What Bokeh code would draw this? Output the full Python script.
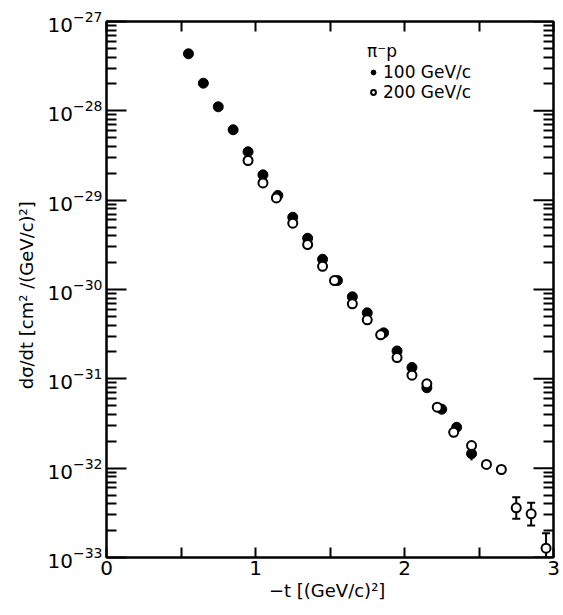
from bokeh.plotting import figure
from bokeh.models import (Range1d, FixedTicker, LinearAxis, LogAxis, Legend,
                          LegendItem, ColumnDataSource)
from bokeh.embed import file_html
from bokeh.resources import INLINE

# ---- data ----
t_100 = [0.55, 0.65, 0.75, 0.85, 0.95, 1.05, 1.15, 1.25, 1.35, 1.45,
         1.55, 1.65, 1.75, 1.86, 1.95, 2.05, 2.15, 2.25, 2.35, 2.45]
ds_100 = [4.35e-28, 2.04e-28, 1.11e-28, 6.14e-29, 3.48e-29, 1.92e-29, 1.13e-29,
          6.44e-30, 3.75e-30, 2.18e-30, 1.26e-30, 8.28e-31, 5.48e-31, 3.27e-31,
          2.05e-31, 1.34e-31, 7.94e-32, 4.57e-32, 2.87e-32, 1.45e-32]

t_200 = [0.95, 1.05, 1.14, 1.25, 1.35, 1.45, 1.53, 1.65, 1.75, 1.84, 1.95,
         2.05, 2.15, 2.22, 2.33, 2.45, 2.55, 2.65, 2.75, 2.85, 2.95]
ds_200 = [2.78e-29, 1.56e-29, 1.06e-29, 5.52e-30, 3.19e-30, 1.82e-30, 1.26e-30,
          6.92e-31, 4.58e-31, 3.11e-31, 1.73e-31, 1.10e-31, 8.8e-32, 4.81e-32,
          2.52e-32, 1.79e-32, 1.10e-32, 9.66e-33, 3.60e-33, 3.08e-33, 1.27e-33]

# error bars
err_t = [2.45, 2.75, 2.85, 2.95]
err_lo = [1.22e-32, 2.71e-33, 2.28e-33, 8e-34]
err_hi = [1.80e-32, 4.73e-33, 4.09e-33, 1.87e-33]
cap_lo_t = [2.75, 2.85]
cap_lo = [2.71e-33, 2.28e-33]
cap_hi_t = [2.45, 2.75, 2.85, 2.95]
cap_hi = [1.80e-32, 4.73e-33, 4.09e-33, 1.87e-33]

x_major = [0, 1, 2, 3]
x_minor = [0.5, 1.5, 2.5]
x_all = [0, 0.5, 1, 1.5, 2, 2.5, 3]
y_major = [10.0 ** k for k in range(-33, -26)]
y_minor = [m * 10.0 ** k for k in range(-33, -27) for m in range(2, 10)]
x_edge = [3.0] * len(y_major)

FONT = "DejaVu Sans"

p = figure(width=563, height=615, x_range=Range1d(0, 3),
           y_range=Range1d(1e-33, 1e-27), y_axis_type="log",
           output_backend="svg", toolbar_location=None,
           min_border_left=106, min_border_right=10,
           min_border_top=21, min_border_bottom=58)
p.grid.visible = False
p.outline_line_color = "black"
p.outline_line_width = 2
p.background_fill_color = "white"
p.border_fill_color = "white"


def style(ax, ticker, major_len):
    ax.ticker = ticker
    ax.axis_line_color = "black"
    ax.axis_line_width = 2
    ax.major_tick_in = major_len
    ax.major_tick_out = 0
    ax.minor_tick_in = 10
    ax.minor_tick_out = 0
    ax.major_tick_line_width = 2
    ax.minor_tick_line_width = 2
    ax.major_tick_line_color = "black"
    ax.minor_tick_line_color = "black"
    ax.major_label_text_font = FONT
    ax.major_label_text_color = "black"
    ax.major_label_text_font_size = "20px"


style(p.xaxis[0], FixedTicker(ticks=x_major, minor_ticks=x_minor), 10)
style(p.yaxis[0], FixedTicker(ticks=y_major, minor_ticks=y_minor), 20)
p.xaxis[0].major_label_standoff = 3
p.yaxis[0].major_label_standoff = 4

p.xaxis[0].axis_label = "\u2212t  [(GeV/c)\u00b2]"
p.yaxis[0].axis_label = "d\u03c3/dt   [cm\u00b2 /(GeV/c)\u00b2]"
for ax in (p.xaxis[0], p.yaxis[0]):
    ax.axis_label_text_font = FONT
    ax.axis_label_text_font_size = "18px"
    ax.axis_label_text_font_style = "normal"
    ax.axis_label_text_color = "black"
p.xaxis[0].axis_label_standoff = 2
p.yaxis[0].axis_label_standoff = 8

# mirrored axes: only minor ticks (no labels)
top = LinearAxis()
style(top, FixedTicker(ticks=[], minor_ticks=x_all), 10)
p.add_layout(top, "above")
right = LogAxis()
style(right, FixedTicker(ticks=[], minor_ticks=y_minor), 10)
p.add_layout(right, "right")
# longer decade ticks on the right edge (clipped to frame -> inward half)
p.scatter(x=x_edge, y=y_major, marker="dash", size=40, line_color="black",
          line_width=2)

# error bars
p.segment(x0=err_t, y0=err_lo, x1=err_t, y1=err_hi, line_color="black",
          line_width=2)
p.scatter(x=cap_hi_t, y=cap_hi, marker="dash", size=8, line_color="black",
          line_width=2)
p.scatter(x=cap_lo_t, y=cap_lo, marker="dash", size=8, line_color="black",
          line_width=2)

src100 = ColumnDataSource(dict(t=t_100, ds=ds_100))
src200 = ColumnDataSource(dict(t=t_200, ds=ds_200))
r100 = p.scatter("t", "ds", source=src100, marker="circle", size=10,
                 fill_color="black", line_color="black")
r200 = p.scatter("t", "ds", source=src200, marker="circle", size=9,
                 fill_color="white", line_color="black", line_width=2)

legend = Legend(items=[LegendItem(label="100 GeV/c", renderers=[r100]),
                       LegendItem(label="200 GeV/c", renderers=[r200])],
                location=(261, 455), title="\u03c0\u207bp",
                title_text_font=FONT, title_text_font_size="17px",
                title_text_font_style="normal", title_standoff=1,
                label_text_font=FONT, label_text_font_size="17px",
                label_text_color="black", title_text_color="black",
                border_line_color=None, background_fill_alpha=0,
                padding=0, margin=0, spacing=0, label_height=20,
                glyph_width=12, glyph_height=20, label_standoff=4)
p.add_layout(legend)

open("out.html", "w").write(file_html(p, INLINE))
